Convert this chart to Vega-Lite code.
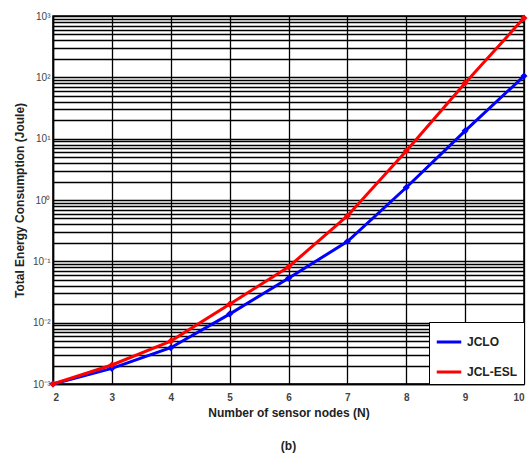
{
  "$schema": "https://vega.github.io/schema/vega-lite/v6.json",
  "width": 471,
  "height": 368,
  "autosize": {"type": "none"},
  "padding": {"left": 53, "top": 16, "right": 7, "bottom": 76},
  "background": "white",
  "title": {"text": "(b)", "orient": "bottom", "font": "Liberation Sans", "fontSize": 12, "fontWeight": "bold", "color": "#222", "offset": 23},
  "config": {
    "view": {"stroke": "#000", "strokeWidth": 1.5},
    "axis": {"labelFont": "Liberation Sans", "titleFont": "Liberation Sans", "titleFontWeight": "bold", "titleFontSize": 12, "titleColor": "#222", "labelColor": "#444", "labelFontSize": 10, "gridColor": "#000", "gridOpacity": 1, "gridWidth": 1.3, "domainColor": "#000", "domainWidth": 1.5, "ticks": false}
  },
  "data": {"values": [
    {"N": 2, "energy": 0.001, "method": "JCLO"},
    {"N": 3, "energy": 0.0018, "method": "JCLO"},
    {"N": 4, "energy": 0.0039, "method": "JCLO"},
    {"N": 5, "energy": 0.0138, "method": "JCLO"},
    {"N": 6, "energy": 0.053, "method": "JCLO"},
    {"N": 7, "energy": 0.21, "method": "JCLO"},
    {"N": 8, "energy": 1.6, "method": "JCLO"},
    {"N": 9, "energy": 13.4, "method": "JCLO"},
    {"N": 10, "energy": 105, "method": "JCLO"},
    {"N": 2, "energy": 0.001, "method": "JCL-ESL"},
    {"N": 3, "energy": 0.00204, "method": "JCL-ESL"},
    {"N": 4, "energy": 0.005, "method": "JCL-ESL"},
    {"N": 5, "energy": 0.02, "method": "JCL-ESL"},
    {"N": 6, "energy": 0.081, "method": "JCL-ESL"},
    {"N": 7, "energy": 0.55, "method": "JCL-ESL"},
    {"N": 8, "energy": 6.3, "method": "JCL-ESL"},
    {"N": 9, "energy": 81, "method": "JCL-ESL"},
    {"N": 10, "energy": 930, "method": "JCL-ESL"}
  ]},
  "mark": {"type": "line", "strokeWidth": 3, "point": {"filled": true, "size": 50, "shape": "diamond", "opacity": 1}},
  "encoding": {
    "x": {"field": "N", "type": "quantitative", "scale": {"domain": [2, 10], "nice": false, "zero": false},
      "axis": {"values": [2,3,4,5,6,7,8,9,10], "grid": true, "title": "Number of sensor nodes (N)", "labelPadding": 8, "titlePadding": 5, "labelFontWeight": "bold"}},
    "y": {"field": "energy", "type": "quantitative", "scale": {"type": "log", "domain": [0.001, 1000], "nice": false},
      "axis": {"grid": true, "title": "Total Energy Consumption (Joule)", "labelOverlap": false, "labelPadding": 3, "titlePadding": 6,
        "values": [0.001,0.002,0.003,0.004,0.005,0.006,0.007,0.008,0.009,0.01,0.02,0.03,0.04,0.05,0.06,0.07,0.08,0.09,0.1,0.2,0.3,0.4,0.5,0.6,0.7,0.8,0.9,1,2,3,4,5,6,7,8,9,10,20,30,40,50,60,70,80,90,100,200,300,400,500,600,700,800,900,1000],
        "labelExpr": "abs(log(datum.value)/LN10 - round(log(datum.value)/LN10)) < 0.001 ? '10' + ['⁻³','⁻²','⁻¹','⁰','¹','²','³'][round(log(datum.value)/LN10) + 3] : ''"}},
    "color": {"field": "method", "type": "nominal", "scale": {"domain": ["JCLO", "JCL-ESL"], "range": ["#0000ff", "#ff0000"]},
      "legend": {"title": null, "orient": "bottom-right", "offset": 0, "strokeColor": "#000", "fillColor": "#fff", "padding": 6, "labelFont": "Liberation Sans", "labelFontSize": 12, "labelFontWeight": "bold", "labelColor": "#222", "symbolType": "stroke", "symbolStrokeWidth": 3, "symbolSize": 600, "rowPadding": 10, "cornerRadius": 0}}
  }
}
